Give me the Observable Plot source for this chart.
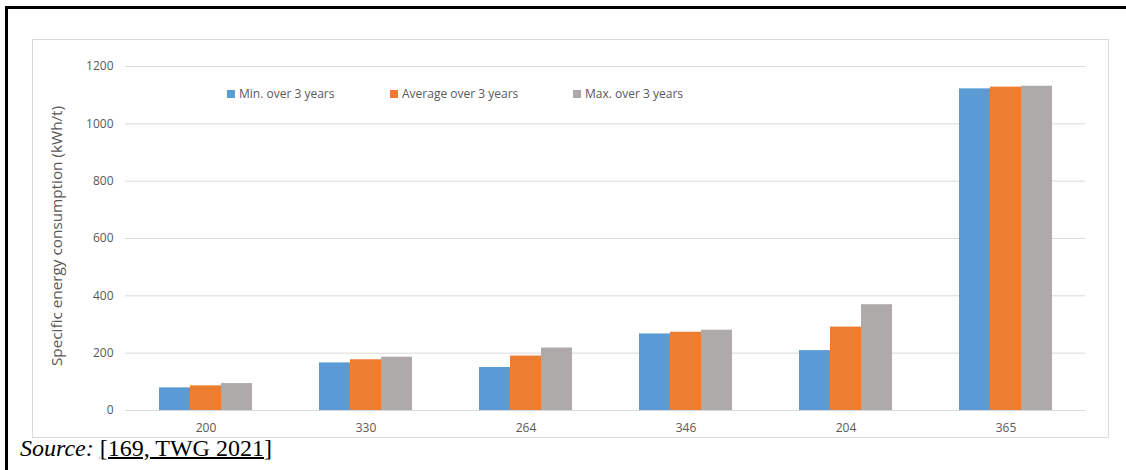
<!DOCTYPE html>
<html>
<head>
<meta charset="utf-8">
<script src="https://cdn.jsdelivr.net/npm/d3@7"></script>
<script src="https://cdn.jsdelivr.net/npm/@observablehq/plot@0.6"></script>
<style>
  html, body { margin: 0; padding: 0; background: #fff; }
  #wrap { position: relative; width: 1126px; height: 470px; overflow: hidden; font-family: "Open Sans", sans-serif; }
  .layer { position: absolute; left: 0; top: 0; }
  .layer svg { background: transparent !important; }
  .border-top { position: absolute; left: 5px; top: 6px; width: 1121px; height: 2.5px; background: #000; }
  .border-left { position: absolute; left: 5px; top: 6px; width: 2.5px; height: 464px; background: #000; }
  .inner-box { position: absolute; left: 32px; top: 39px; width: 1077px; height: 399px; border: 1px solid #d9d9d9; box-sizing: border-box; }
  .legend { position: absolute; top: 85px; left: 0; font-size: 12px; color: #595959; white-space: nowrap; }
  .legend .item { position: absolute; top: 0; display: flex; align-items: center; }
  .legend .sw { width: 8px; height: 8px; margin-right: 4px; display: inline-block; }
  .ylabel { position: absolute; left: 57px; top: 236px; transform: translate(-50%, -50%) rotate(-90deg); font-size: 15.3px; color: #595959; white-space: nowrap; line-height: 1; }
  .source { position: absolute; left: 20px; top: 436px; font-family: "Liberation Serif", "Times New Roman", serif; font-size: 24px; color: #000; white-space: nowrap; line-height: 1; }
  .source u { text-decoration-thickness: 1.5px; }
</style>
</head>
<body>
<div id="wrap">
  <div class="inner-box"></div>
  <div id="grid" class="layer"></div>
  <div id="bars" class="layer"></div>
  <div class="border-top"></div>
  <div class="border-left"></div>
  <div class="legend" id="legend"></div>
  <div class="ylabel" id="ylabel"></div>
  <div class="source"><i>Source:</i> <u>[169, TWG 2021]</u></div>
</div>
<script>
const categories = ["200", "330", "264", "346", "204", "365"];
const seriesNames = ["Min. over 3 years", "Average over 3 years", "Max. over 3 years"];
const seriesColors = ["#5B9BD5", "#ED7D31", "#AEAAAA"];
const minValues = [79, 166, 150, 267, 209, 1122];
const avgValues = [86, 177, 190, 273, 291, 1128];
const maxValues = [94, 186, 218, 280, 369, 1131];
const yTicks = [0, 200, 400, 600, 800, 1000, 1200];
const yLabel = "Specific energy consumption (kWh/t)";

const seriesValues = [minValues, avgValues, maxValues];
const data = [];
categories.forEach((c, i) => {
  seriesNames.forEach((s, j) => {
    data.push({ category: c, series: s, value: seriesValues[j][i] });
  });
});

const common = {
  width: 1126,
  height: 470,
  marginLeft: 125,
  marginRight: 41,
  marginTop: 66,
  marginBottom: 60,
  style: { fontFamily: "Open Sans, sans-serif", fontSize: "12px", color: "#595959", background: "transparent" }
};

// Layer 1: gridlines and y axis (no facets)
const gridPlot = Plot.plot({
  ...common,
  x: { domain: categories, axis: null },
  y: { domain: [0, 1200], axis: null },
  marks: [
    Plot.gridY(yTicks, { stroke: "#d9d9d9", strokeOpacity: 1, strokeWidth: 1 }),
    Plot.axisY(yTicks, { anchor: "left", tickSize: 0, tickPadding: 12, tickFormat: d3.format("d"), label: null, fill: "#595959", fontSize: 12 })
  ]
});
document.getElementById("grid").appendChild(gridPlot);

// Layer 2: grouped bars (faceted by category) and category axis
const barPlot = Plot.plot({
  ...common,
  fx: { domain: categories, paddingInner: 0.42, paddingOuter: 0.21, label: null, axis: null },
  x: { domain: seriesNames, padding: 0, axis: null },
  y: { domain: [0, 1200], axis: null },
  color: { domain: seriesNames, range: seriesColors },
  marks: [
    Plot.barY(data, { fx: "category", x: "series", y: "value", fill: "series", inset: 0 }),
    Plot.axisFx({ anchor: "bottom", tickSize: 0, tickPadding: 13, label: null, fill: "#595959", fontSize: 12 })
  ]
});
document.getElementById("bars").appendChild(barPlot);

document.getElementById("ylabel").textContent = yLabel;

const legendPos = [227, 390, 573];
const legend = document.getElementById("legend");
seriesNames.forEach((s, j) => {
  const item = document.createElement("div");
  item.className = "item";
  item.style.left = legendPos[j] + "px";
  const sw = document.createElement("span");
  sw.className = "sw";
  sw.style.background = seriesColors[j];
  const t = document.createElement("span");
  t.textContent = s;
  item.appendChild(sw);
  item.appendChild(t);
  legend.appendChild(item);
});
</script>
</body>
</html>
